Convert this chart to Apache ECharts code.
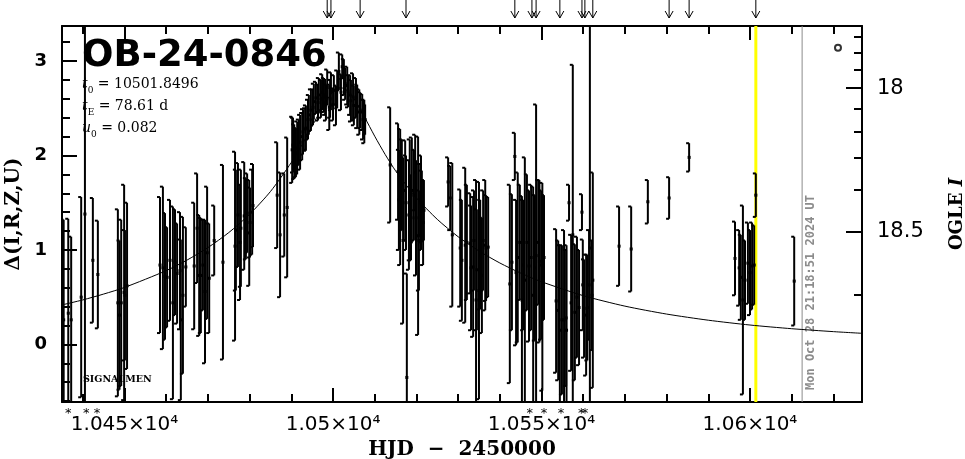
<!DOCTYPE html>
<html><head><meta charset="utf-8">
<script src="https://cdn.jsdelivr.net/npm/echarts@6/dist/echarts.min.js"></script>
<style>html,body{margin:0;padding:0;background:#fff}#c{width:965px;height:459px}</style>
</head><body><div id="c"></div>
<script>
// ---------- data ----------
const hjd = [
10435.4,10436.5,10437.2,10439.6,10440.5,10442.4,10443.6,
10448.4,10448.8,10449.2,10449.9,10450.1,10450.6,
10458.5,10459.2,10459.7,10460.2,10460.9,10461.6,10462.1,10462.6,10463.3,10463.5,10464.0,10464.7,
10466.7,10467.4,10467.9,10468.3,10468.8,10469.3,10469.8,10470.3,10471.5,10473.6,
10476.5,10476.7,10477.2,10477.7,10477.9,10478.7,10479.1,10479.4,10479.9,10480.1,10480.6,10480.8,
10486.6,10487.3,10488.3,10489.0,
10490.2,10490.4,10490.7,10491.1,10491.4,10491.8,10492.1,10492.6,10492.8,10493.3,10493.5,10494.0,10494.2,10494.7,
10495.2,10495.4,10495.9,10496.4,10496.6,10497.1,10497.4,10497.8,10498.1,10498.3,10498.6,10499.1,10499.3,10499.5,
10500.0,10500.2,10500.7,10501.0,10501.4,10501.9,10502.2,10502.6,10502.9,10503.4,10503.6,10504.1,10504.3,10504.8,
10505.0,10505.5,10505.8,10506.3,10506.5,10507.0,10507.2,10507.5,10507.7,
10513.7,10515.6,10515.8,10516.1,10516.5,10516.8,10517.3,10517.5,10517.7,10518.2,10518.4,10518.7,10518.9,
10519.4,10519.7,10519.9,10520.4,10520.6,10520.9,10521.1,10521.3,10521.6,10521.8,
10527.6,10528.1,10528.6,10530.5,10530.9,10531.7,10532.1,10532.9,10533.1,10533.6,10533.8,10534.3,10534.5,
10535.0,10535.3,10535.7,10536.0,10536.5,10536.7,10537.2,
10542.4,10542.9,10543.6,10543.9,10544.3,10544.8,10545.3,10545.6,10546.0,10546.5,10547.0,10547.5,10548.0,
10548.4,10548.7,10549.2,10549.5,10549.9,10550.2,10550.6,
10553.5,10554.0,10554.4,10554.9,10555.4,10555.9,10556.0,10556.6,10557.1,10557.5,10558.0,10558.5,10559.0,
10559.7,10559.9,10560.2,10560.7,10561.0,10561.4,10561.6,10562.1,10562.3,
10568.6,10571.5,10575.5,10580.6,10585.4,10596.4,10597.4,10597.8,10598.3,10598.8,10599.5,10600.0,10600.5,
10601.0,10601.4,10610.6
];
const delta = [
0.26,0.33,0.26,0.50,1.38,0.89,0.74,
0.44,0.31,0.44,0.55,0.52,0.62,
0.84,0.81,0.72,0.71,0.89,0.44,0.87,0.75,0.78,0.26,0.52,0.82,
0.83,1.23,0.73,0.73,0.84,0.56,0.97,0.70,1.10,0.87,
1.04,1.21,1.37,1.08,1.23,1.36,1.33,1.39,1.18,1.29,1.40,1.47,
1.58,1.16,1.37,1.45,
2.06,2.11,2.04,2.03,2.08,2.14,2.14,2.20,2.25,2.28,2.29,2.38,2.43,2.48,
2.51,2.57,2.61,2.56,2.64,2.60,2.67,2.64,2.62,2.56,2.72,2.51,2.60,2.68,
2.54,2.69,2.53,2.70,2.89,2.67,2.94,2.83,2.76,2.74,2.68,2.64,2.58,2.62,
2.53,2.61,2.52,2.46,2.48,2.46,2.38,2.36,2.38,
1.90,1.83,1.53,1.56,1.69,1.10,1.63,1.50,-0.35,1.37,1.53,1.34,1.63,
1.58,1.82,1.34,1.15,1.10,1.53,1.50,1.46,1.29,1.42,
1.72,1.55,1.16,1.02,0.89,1.05,1.08,1.07,0.81,0.82,1.10,0.47,0.79,
0.57,0.95,0.73,1.10,1.05,1.02,1.03,
0.64,0.87,1.99,0.76,0.92,1.08,0.47,0.84,0.68,1.08,0.83,0.92,0.52,
0.81,0.94,1.08,0.88,0.84,0.61,0.92,
0.46,0.36,0.15,0.26,0.26,0.28,0.15,1.50,0.44,1.16,0.34,0.50,0.39,
1.40,0.63,0.38,0.31,0.39,0.63,1.02,0.52,0.68,
1.04,1.01,1.51,1.55,1.98,0.91,0.81,0.71,0.47,0.68,0.86,0.76,0.83,
0.84,1.58,0.67
];
const err = [
1.06,1.00,0.88,1.06,2.00,0.66,0.57,
0.99,0.79,0.88,1.14,0.69,0.88,
0.72,0.86,0.67,0.53,0.64,1.02,0.56,0.53,0.62,0.85,0.83,0.42,
0.67,0.58,0.64,0.61,0.48,0.76,0.70,0.58,0.37,1.03,
1.00,0.64,0.55,0.61,0.62,0.57,0.43,0.42,0.56,0.37,0.45,0.44,
0.56,0.66,0.44,0.74,
0.35,0.29,0.29,0.26,0.28,0.24,0.29,0.25,0.24,0.22,0.24,0.21,0.21,0.22,
0.19,0.19,0.17,0.19,0.18,0.20,0.19,0.18,0.19,0.19,0.19,0.24,0.20,0.20,
0.17,0.16,0.21,0.20,0.20,0.19,0.13,0.19,0.17,0.20,0.17,0.21,0.22,0.25,
0.21,0.21,0.23,0.24,0.19,0.19,0.21,0.23,0.16,
0.61,0.51,0.53,0.72,0.48,0.88,0.53,0.50,1.10,0.58,0.64,0.45,0.56,
0.48,0.40,0.61,1.05,0.53,0.38,0.50,0.38,0.45,0.32,
0.26,0.34,0.76,0.62,0.64,0.82,0.61,0.53,0.66,0.74,0.53,1.27,0.64,
1.15,0.58,0.61,0.53,0.69,0.56,0.53,
1.05,0.72,0.25,0.77,0.90,0.61,1.10,0.69,1.30,0.72,0.80,0.77,1.15,
0.77,1.60,0.66,0.86,0.79,1.10,0.66,
0.76,0.74,0.90,0.79,0.95,0.72,0.90,0.19,0.72,1.80,0.72,0.64,0.61,
0.19,0.48,0.52,0.64,0.56,0.58,2.40,0.58,1.14,
0.42,0.45,0.23,0.22,0.15,0.39,0.40,0.45,1.00,0.42,0.43,0.45,0.46,
0.42,0.23,0.47
];
// model curve
const modelHJD = [10435,10440,10445,10450,10460,10465,10470,10475,10480,10485,10490,10492.5,10495,10497.5,
  10500,10501.85,10503.5,10505,10507.5,10510,10512.5,10515,10520,10525,10530,10535,10540,10545,10550,
  10560,10570,10580,10590,10600,10610,10620,10627];
const modelDelta = [0.418,0.471,0.533,0.603,0.781,0.893,1.025,1.184,1.378,1.619,1.926,2.109,2.311,2.516,
  2.675,2.718,2.684,2.603,2.411,2.204,2.011,1.838,1.551,1.324,1.140,0.989,0.862,0.755,0.663,
  0.516,0.405,0.321,0.256,0.205,0.166,0.135,0.117];
const arrowHJD = [10498.6,10499.5,10506.5,10517.5,10543.6,10547.7,10548.7,10554.4,10559.7,10560.4,10562.3,10580.6,10585.4,10601.4];
const starHJD = [10436.5,10440.8,10443.4,10547.2,10550.6,10554.7,10559.5,10560.4];
const highlightHJD = [10601.4];
const nowHJD = [10612.5];
const nowText = 'Mon Oct 28 21:18:51 2024 UT';
const openHJD = [10621.1];
const openDelta = [3.14];
// axes / ticks
const xMajorTicks = [10450,10500,10550,10600];
const xTickLabels = ['1.045×10⁴','1.05×10⁴','1.055×10⁴','1.06×10⁴'];
const xMinorTicks = [10440,10450,10460,10470,10480,10490,10500,10510,10520,10530,10540,10550,10560,10570,10580,10590,10600,10610,10620];
const yMajorTicks = [0,1,2,3];
const yTickLabels = ['0','1','2','3'];
const yMinorTicks = [-0.6,-0.4,-0.2,0,0.2,0.4,0.6,0.8,1,1.2,1.4,1.6,1.8,2,2.2,2.4,2.6,2.8,3,3.2];
const magMinorTicks = [17.7,17.8,17.9,18.0,18.1,18.2,18.3,18.4,18.5,18.6];
const magMajorTicks = [18, 18.5];
const magTickLabels = ['18','18.5'];
const title = 'OB-24-0846';

// ---------- rendering ----------
const X_MIN = 10435, X_MAX = 10626.86, Y_MIN = -0.61, Y_MAX = 3.371;
const I0 = 18.649, FS = 0.0733; // right-hand magnitude scale calibration
const magToDelta = m => 2.5*Math.log10(1 + (Math.pow(10, 0.4*(I0-m)) - 1)/FS);
const deltaToMag = d => I0 - 2.5*Math.log10(FS*(Math.pow(10, 0.4*d) - 1) + 1);

const chart = echarts.init(document.getElementById('c'), null, {renderer:'canvas'});
const axLine = {show:true, onZero:false, lineStyle:{color:'#000', width:2}};
const noLine = {show:false, onZero:false};
const tickStyle = {color:'#000', width:2};
function xAx(pos, ticks, len, labels, lineShow){
  return {type:'value', position:pos, min:X_MIN, max:X_MAX, gridIndex:0,
    axisLine: lineShow ? axLine : noLine,
    splitLine:{show:false},
    axisTick:{show:true, inside:true, length:len, lineStyle:tickStyle, customValues:ticks},
    axisLabel: labels ? {show:true, customValues:xMajorTicks, margin:13,
       formatter:v=>{const i=xMajorTicks.findIndex(t=>Math.abs(t-v)<1e-6);return i>=0?xTickLabels[i]:'';},
       fontFamily:'DejaVu Sans', fontSize:20, color:'#000'} : {show:false}
  };
}
const option = {
  animation:false,
  backgroundColor:'#fff',
  grid:{left:62, top:26, width:800, height:376, containLabel:false, outerBoundsMode:'none'},
  xAxis:[
    Object.assign(xAx('bottom', xMajorTicks, 14, true, true), {
      name:'HJD  −  2450000', nameLocation:'middle', nameGap:36,
      nameTextStyle:{fontFamily:'DejaVu Serif', fontWeight:'bold', fontSize:20, color:'#000'}}),
    xAx('bottom', xMinorTicks, 8, false, false),
    xAx('top', xMajorTicks, 14, false, true),
    xAx('top', xMinorTicks, 8, false, false)
  ],
  yAxis:[
    {type:'value', position:'left', min:Y_MIN, max:Y_MAX, axisLine:axLine, splitLine:{show:false},
     axisTick:{show:true, inside:true, length:15, lineStyle:tickStyle, customValues:yMajorTicks},
     axisLabel:{show:true, customValues:yMajorTicks, margin:15,
       formatter:v=>{const i=yMajorTicks.findIndex(t=>Math.abs(t-v)<1e-6);return i>=0?yTickLabels[i]:'';},
       fontFamily:'DejaVu Sans', fontWeight:'bold', fontSize:18, color:'#000'},
     name:'Δ(I,R,Z,U)', nameLocation:'middle', nameGap:37,
     nameTextStyle:{fontFamily:'DejaVu Serif', fontWeight:'bold', fontSize:20, color:'#000'}},
    {type:'value', position:'right', min:Y_MIN, max:Y_MAX, axisLine:axLine, splitLine:{show:false},
     axisTick:{show:true, inside:true, length:16, lineStyle:tickStyle, customValues:magMajorTicks.map(magToDelta)},
     axisLabel:{show:true, customValues:magMajorTicks.map(magToDelta), margin:15,
       formatter:v=>{const m=deltaToMag(v);const i=magMajorTicks.findIndex(t=>Math.abs(t-m)<0.01);return i>=0?magTickLabels[i]:'';},
       fontFamily:'DejaVu Sans', fontSize:21, color:'#000'},
     name:'{a|OGLE }{b|I}', nameLocation:'middle', nameGap:86, nameRotate:90,
     nameTextStyle:{rich:{a:{fontFamily:'DejaVu Serif', fontWeight:'bold', fontSize:18, color:'#000'},
                          b:{fontFamily:'DejaVu Serif', fontWeight:'bold', fontStyle:'italic', fontSize:18, color:'#000'}}}},
    {type:'value', position:'left', min:Y_MIN, max:Y_MAX, axisLine:noLine, splitLine:{show:false},
     axisTick:{show:true, inside:true, length:8, lineStyle:tickStyle, customValues:yMinorTicks},
     axisLabel:{show:false}},
    {type:'value', position:'right', min:Y_MIN, max:Y_MAX, axisLine:noLine, splitLine:{show:false},
     axisTick:{show:true, inside:true, length:8, lineStyle:tickStyle, customValues:magMinorTicks.map(magToDelta)},
     axisLabel:{show:false}}
  ],
  graphic:[
    {type:'text', left:82, top:38, z:100, style:{text:title, font:'bold 37px "DejaVu Sans"', fill:'#000'}},
    {type:'text', left:82, top:77, z:100, style:{
      text:'{v|t}{s|0}{n| = 10501.8496}\n{v|t}{s|E}{n| = 78.61 d}\n{v|u}{s|0}{n| = 0.082}',
      rich:{
        v:{font:'italic 14px "DejaVu Serif"', fill:'#000', lineHeight:22, verticalAlign:'middle'},
        n:{font:'14px "DejaVu Serif"', fill:'#000', lineHeight:22, verticalAlign:'middle'},
        s:{font:'9px "DejaVu Serif"', fill:'#000', lineHeight:22, verticalAlign:'bottom'}
      }}},
    {type:'text', left:83, top:375, z:100, style:{text:'SIGNALMEN', font:'bold 9.5px "DejaVu Serif"', fill:'#000'}}
  ],
  series:[
    {type:'custom', coordinateSystem:'cartesian2d', xAxisIndex:0, yAxisIndex:0, clip:true, z:1,
     data: highlightHJD.map(t=>[t, Y_MIN]),
     renderItem:(p,api)=>{const a=api.coord([api.value(0),Y_MAX]), b=api.coord([api.value(0),Y_MIN]);
       return {type:'line', shape:{x1:a[0],y1:a[1],x2:b[0],y2:b[1]}, style:{stroke:'#ffff00', lineWidth:3}};}},
    {type:'custom', coordinateSystem:'cartesian2d', xAxisIndex:0, yAxisIndex:0, clip:false, z:1,
     data: nowHJD.map(t=>[t, Y_MIN]),
     renderItem:(p,api)=>{const a=api.coord([api.value(0),Y_MAX]), b=api.coord([api.value(0),Y_MIN]);
       return {type:'group', children:[
         {type:'line', shape:{x1:a[0],y1:a[1],x2:b[0],y2:b[1]}, style:{stroke:'#8c8c8c', lineWidth:1}},
         {type:'text', x:b[0]+9, y:b[1]-12, rotation:Math.PI/2,
          style:{text:nowText, x:0, y:0, align:'left', verticalAlign:'middle', font:'bold 12px "DejaVu Sans Mono"', fill:'#8c8c8c'}}
       ]};}},
    {type:'line', xAxisIndex:0, yAxisIndex:0, data: modelHJD.map((t,i)=>[t, modelDelta[i]]),
     showSymbol:false, symbol:'none', smooth:0.25, clip:true, z:2, lineStyle:{color:'#000', width:1}},
    {type:'custom', coordinateSystem:'cartesian2d', xAxisIndex:0, yAxisIndex:0, clip:true, z:3,
     data: hjd.map((t,i)=>[t, delta[i], err[i]]),
     renderItem:(p,api)=>{
       const t=api.value(0), d=api.value(1), e=api.value(2);
       const a=api.coord([t,d+e]), b=api.coord([t,d-e]), c=api.coord([t,d]);
       const st={stroke:'#000', lineWidth:2};
       return {type:'group', children:[
         {type:'line', shape:{x1:a[0],y1:a[1],x2:b[0],y2:b[1]}, style:st},
         {type:'line', shape:{x1:a[0]-3,y1:a[1],x2:a[0],y2:a[1]}, style:st},
         {type:'line', shape:{x1:b[0]-3,y1:b[1],x2:b[0],y2:b[1]}, style:st},
         {type:'rect', shape:{x:c[0]-1.5,y:c[1]-1.5,width:3,height:3}, style:{fill:'#000'}}
       ]};}},
    {type:'scatter', xAxisIndex:0, yAxisIndex:0, z:4, data: openHJD.map((t,i)=>[t, openDelta[i]]),
     symbol:'circle', symbolSize:6, itemStyle:{color:'#fff', borderColor:'#000', borderWidth:2}},
    {type:'custom', coordinateSystem:'cartesian2d', xAxisIndex:0, yAxisIndex:0, clip:false, z:5,
     data: arrowHJD.map(t=>[t, Y_MAX]),
     renderItem:(p,api)=>{const a=api.coord([api.value(0),Y_MAX]); const x=a[0], y=a[1]-8;
       return {type:'group', children:[
         {type:'line', shape:{x1:x,y1:0,x2:x,y2:y}, style:{stroke:'#000', lineWidth:1}},
         {type:'polyline', shape:{points:[[x-4,y-7],[x,y],[x+4,y-7]]}, style:{stroke:'#000', lineWidth:1, fill:null}}
       ]};}},
    {type:'custom', coordinateSystem:'cartesian2d', xAxisIndex:0, yAxisIndex:0, clip:false, z:5,
     data: starHJD.map(t=>[t, Y_MIN]),
     renderItem:(p,api)=>{const a=api.coord([api.value(0),Y_MIN]);
       return {type:'text', x:a[0], y:a[1]+12, style:{text:'*', x:0, y:0, align:'center', verticalAlign:'middle', font:'13px "DejaVu Sans"', fill:'#000'}};}}
  ]
};
chart.setOption(option);
</script></body></html>
